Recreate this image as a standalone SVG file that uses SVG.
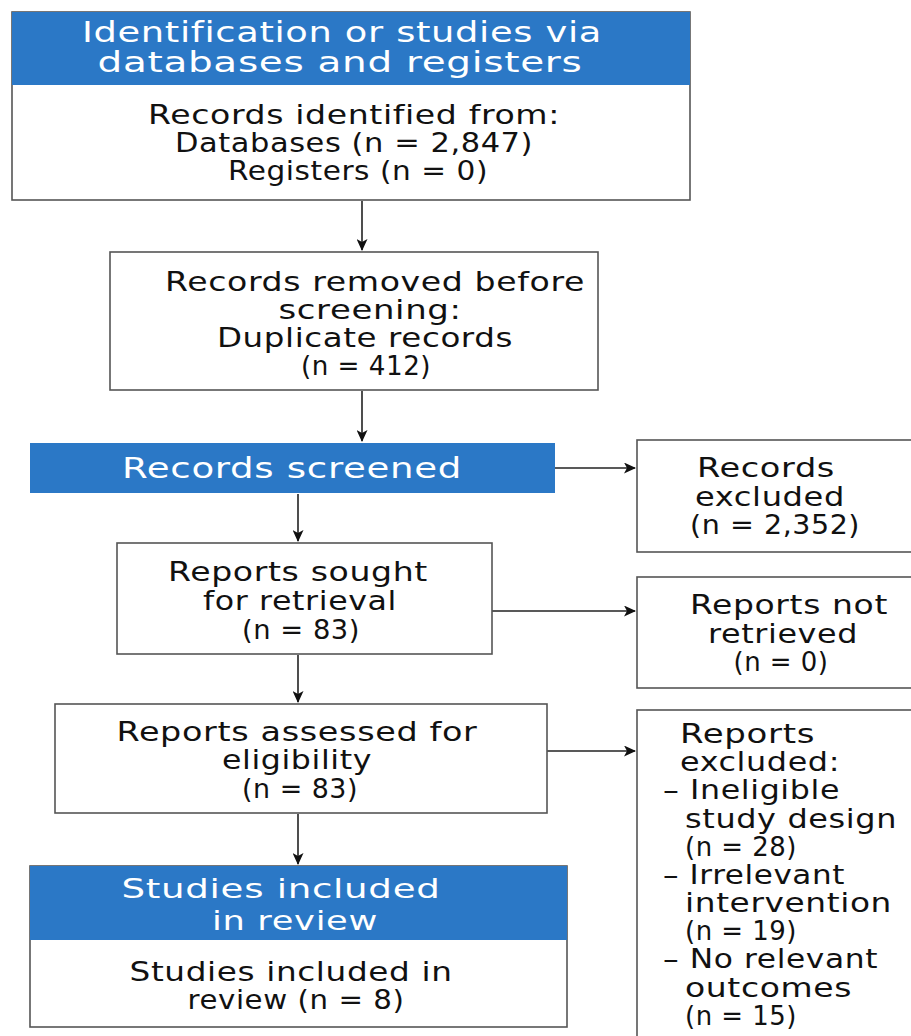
<svg xmlns="http://www.w3.org/2000/svg" width="911" height="1036" viewBox="0 0 911 1036">
<defs>
<marker id="ah" markerWidth="12" markerHeight="11" refX="11" refY="5.5" orient="auto" markerUnits="userSpaceOnUse">
<path d="M0,0 L12,5.5 L0,11 L3,5.5 Z" fill="#111"/>
</marker>
<style>
.box{fill:#fff;stroke:#555;stroke-width:1.6}
.blue{fill:#2b78c6;stroke:none}
text{font-family:"DejaVu Sans","Liberation Sans",sans-serif;font-size:26px;letter-spacing:0.5px;fill:#111}
.w{fill:#fff;font-size:28px;letter-spacing:0.5px}
.ws{font-size:27px}
.t{font-size:27px}
.c{text-anchor:middle}
.con{stroke:#222;stroke-width:1.6;fill:none;marker-end:url(#ah)}
</style>
</defs>
<rect width="911" height="1036" fill="#fff"/>
<g id="connectors">
<line class="con" x1="362" y1="201" x2="362" y2="250"/>
<line class="con" x1="362" y1="391" x2="362" y2="441"/>
<line class="con" x1="555" y1="468" x2="635" y2="468"/>
<line class="con" x1="298" y1="494" x2="298" y2="541"/>
<line class="con" x1="492" y1="611" x2="635" y2="611"/>
<line class="con" x1="298" y1="655" x2="298" y2="702"/>
<line class="con" x1="547" y1="751" x2="635" y2="751"/>
<line class="con" x1="298" y1="814" x2="298" y2="864"/>
</g>
<g id="identification">
<rect class="box" x="12" y="12" width="678" height="188"/>
<rect class="blue" x="12" y="12" width="678" height="73"/>
<text class="w c" x="342" y="42" textLength="520" lengthAdjust="spacingAndGlyphs">Identification or studies via</text>
<text class="w c" x="340" y="72" textLength="485" lengthAdjust="spacingAndGlyphs">databases and registers</text>
<text class="t c" x="354" y="124" textLength="412" lengthAdjust="spacingAndGlyphs">Records identified from:</text>
<text class="t c" x="354" y="152" textLength="358" lengthAdjust="spacingAndGlyphs">Databases (n = 2,847)</text>
<text class="t c" x="358" y="180" textLength="260" lengthAdjust="spacingAndGlyphs">Registers (n = 0)</text>
</g>
<g id="removed">
<rect class="box" x="110" y="252" width="488" height="138"/>
<text class="t c" x="375" y="291" textLength="420" lengthAdjust="spacingAndGlyphs">Records removed before</text>
<text class="t c" x="370" y="319" textLength="183" lengthAdjust="spacingAndGlyphs">screening:</text>
<text class="t c" x="365" y="347" textLength="296" lengthAdjust="spacingAndGlyphs">Duplicate records</text>
<text class="t c" x="366" y="375" textLength="130" lengthAdjust="spacingAndGlyphs">(n = 412)</text>
</g>
<g id="screened">
<rect class="blue" x="30" y="443" width="525" height="50"/>
<text class="w" x="122" y="478" textLength="340" lengthAdjust="spacingAndGlyphs">Records screened</text>
</g>
<g id="excluded">
<rect class="box" x="637" y="440" width="280" height="112"/>
<text class="c" x="766" y="477" textLength="138" lengthAdjust="spacingAndGlyphs">Records</text>
<text class="c" x="770" y="506" textLength="150" lengthAdjust="spacingAndGlyphs">excluded</text>
<text class="c" x="775" y="534" textLength="170" lengthAdjust="spacingAndGlyphs">(n = 2,352)</text>
</g>
<g id="sought">
<rect class="box" x="117" y="543" width="375" height="111"/>
<text class="c" x="298" y="581" textLength="260" lengthAdjust="spacingAndGlyphs">Reports sought</text>
<text class="c" x="300" y="610" textLength="194" lengthAdjust="spacingAndGlyphs">for retrieval</text>
<text class="c" x="301" y="639" textLength="118" lengthAdjust="spacingAndGlyphs">(n = 83)</text>
</g>
<g id="notretrieved">
<rect class="box" x="637" y="577" width="280" height="111"/>
<text class="c" x="789" y="614" textLength="198" lengthAdjust="spacingAndGlyphs">Reports not</text>
<text class="c" x="783" y="643" textLength="150" lengthAdjust="spacingAndGlyphs">retrieved</text>
<text class="c" x="781" y="671" textLength="95" lengthAdjust="spacingAndGlyphs">(n = 0)</text>
</g>
<g id="assessed">
<rect class="box" x="55" y="704" width="492" height="109"/>
<text class="c" x="297" y="741" textLength="361" lengthAdjust="spacingAndGlyphs">Reports assessed for</text>
<text class="c" x="297" y="769" textLength="150" lengthAdjust="spacingAndGlyphs">eligibility</text>
<text class="c" x="300" y="798" textLength="116" lengthAdjust="spacingAndGlyphs">(n = 83)</text>
</g>
<g id="reportsexcluded">
<rect class="box" x="637" y="710" width="280" height="340"/>
<text x="680" y="743" textLength="135" lengthAdjust="spacingAndGlyphs">Reports</text>
<text x="680" y="771" textLength="160" lengthAdjust="spacingAndGlyphs">excluded:</text>
<text x="663" y="799" textLength="177" lengthAdjust="spacingAndGlyphs">– Ineligible</text>
<text x="685" y="828" textLength="212" lengthAdjust="spacingAndGlyphs">study design</text>
<text x="685" y="856" textLength="112" lengthAdjust="spacingAndGlyphs">(n = 28)</text>
<text x="663" y="884" textLength="182" lengthAdjust="spacingAndGlyphs">– Irrelevant</text>
<text x="685" y="912" textLength="207" lengthAdjust="spacingAndGlyphs">intervention</text>
<text x="685" y="940" textLength="112" lengthAdjust="spacingAndGlyphs">(n = 19)</text>
<text x="663" y="968" textLength="215" lengthAdjust="spacingAndGlyphs">– No relevant</text>
<text x="685" y="997" textLength="167" lengthAdjust="spacingAndGlyphs">outcomes</text>
<text x="685" y="1025" textLength="112" lengthAdjust="spacingAndGlyphs">(n = 15)</text>
</g>
<g id="included">
<rect class="box" x="30" y="866" width="537" height="161"/>
<rect class="blue" x="30" y="866" width="537" height="74"/>
<text class="w ws c" x="281" y="898" textLength="319" lengthAdjust="spacingAndGlyphs">Studies included</text>
<text class="w ws c" x="295" y="930" textLength="166" lengthAdjust="spacingAndGlyphs">in review</text>
<text class="c" x="291" y="981" textLength="323" lengthAdjust="spacingAndGlyphs">Studies included in</text>
<text class="c" x="296" y="1009" textLength="217" lengthAdjust="spacingAndGlyphs">review (n = 8)</text>
</g>
</svg>
